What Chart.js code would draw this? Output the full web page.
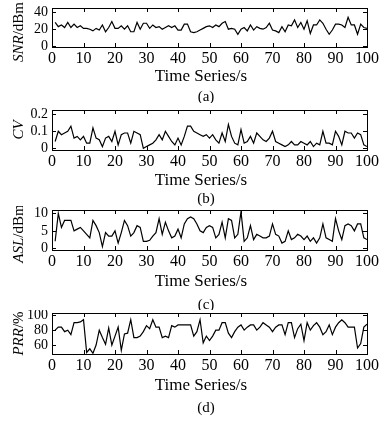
<!DOCTYPE html>
<html><head><meta charset="utf-8">
<script src="https://cdn.jsdelivr.net/npm/chart.js@4.4.0/dist/chart.umd.min.js"></script>
<style>
html,body{margin:0;padding:0;background:#fff;}
#wrap{position:relative;width:389px;height:422px;overflow:hidden;background:#fff;}
.p{position:absolute;left:0;width:389px;}
canvas{display:block;}
</style></head><body>
<div id="wrap">
<div class="p" style="top:0px"><canvas id="ca" width="389" height="103"></canvas></div>
<div class="p" style="top:103px"><canvas id="cb" width="389" height="103"></canvas></div>
<div class="p" style="top:206px"><canvas id="cc" width="389" height="104"></canvas></div>
<div class="p" style="top:310px"><canvas id="cd" width="389" height="112"></canvas></div>
</div>
<script>
// ---- data ----
const timeSeconds = [1,2,3,4,5,6,7,8,9,10,11,12,13,14,15,16,17,18,19,20,21,22,23,24,25,26,27,28,29,30,31,32,33,34,35,36,37,38,39,40,41,42,43,44,45,46,47,48,49,50,51,52,53,54,55,56,57,58,59,60,61,62,63,64,65,66,67,68,69,70,71,72,73,74,75,76,77,78,79,80,81,82,83,84,85,86,87,88,89,90,91,92,93,94,95,96,97,98,99,100];
const xTickValues = [0,10,20,30,40,50,60,70,80,90,100];

const snrValues = [28,23,25,22,28,22,26,22,24,21,21,20,18,21,19,25,17,22,29,21,21,24,20,24,17,17,28,20,27,27,21,25,22,23,20,22,24,22,24,19,19,26,26,17,16,17,19,21,23,24,22,25,23,27,29,20,21,20,14,20,22,18,25,19,23,21,20,22,27,19,18,16,23,17,25,24,31,22,28,20,30,15,25,25,31,27,20,14,19,26,26,25,22,34,25,25,14,26,22,21];
const cvValues = [0.04,0.10,0.08,0.09,0.10,0.13,0.06,0.07,0.05,0.07,0.03,0.03,0.12,0.06,0.05,0.01,0.06,0.07,0.04,0.10,0.02,0.08,0.09,0.09,0.03,0.10,0.09,0.08,0.00,0.01,0.02,0.03,0.05,0.08,0.05,0.10,0.07,0.04,0.02,0.06,0.02,0.07,0.13,0.13,0.10,0.09,0.08,0.07,0.08,0.06,0.08,0.05,0.03,0.09,0.04,0.14,0.07,0.03,0.02,0.11,0.03,0.04,0.07,0.03,0.09,0.07,0.05,0.04,0.06,0.10,0.04,0.03,0.02,0.01,0.02,0.04,0.02,0.02,0.04,0.03,0.02,0.04,0.01,0.03,0.02,0.10,0.03,0.03,0.02,0.10,0.07,0.02,0.10,0.09,0.09,0.06,0.09,0.08,0.02,0.01];
const aslValues = [2,10,6,8,8,8,5,5.5,6,5,4,3,8,6.5,4.5,0.5,4.5,3.5,3.5,5,1.5,4.5,8,6.5,3.5,4.5,6.5,6,2,2,2.3,3.5,4.5,8.5,4,7.5,5,3,3.5,5.5,3,7,8.5,9,8.5,7,5,4.5,6,6.5,6,3,4,7.5,3,8.5,8,3,4,10.5,2,3,6.5,2.5,4,3.5,3,3,3.5,7,4,3.5,1.5,2,5,2.5,3,4,3.5,2.5,3.5,2,3,1.5,3,7,3,2.5,2,8.5,5,2.5,6.5,7,6.5,5,7,7,3,2.5];
const prrValues = [80,84,84,78,80,74,90,90,91,94,50,55,49,60,80,70,61,83,60,72,84,53,75,76,94,70,70,72,78,86,82,94,84,84,70,72,70,86,84,87,87,87,87,87,72,78,94,63,72,66,72,80,80,90,90,76,70,78,84,87,80,84,87,87,80,84,90,87,84,78,84,87,87,74,90,90,70,82,88,66,90,80,86,90,84,74,78,87,74,84,90,94,90,84,84,84,56,62,84,88];

const snrTicks = [0,20,40];
const cvTicks = [0,0.1,0.2];
const aslTicks = [0,5,10];
const prrTicks = [60,80,100];

// ---- drawing ----
const SERIF = '"Liberation Serif","Times New Roman",serif';

const framePlugin = {
  id: 'frame',
  afterDraw(chart, args, o) {
    const {ctx, chartArea: a, scales: {x, y}} = chart;
    ctx.save();
    ctx.strokeStyle = '#000';
    ctx.lineWidth = 1;
    ctx.strokeRect(Math.round(a.left) + 0.5, Math.round(a.top) + 0.5, Math.round(a.right - a.left), Math.round(a.bottom - a.top));
    ctx.beginPath();
    x.ticks.forEach(t => {
      const px = Math.round(x.getPixelForValue(t.value)) + 0.5;
      ctx.moveTo(px, a.bottom); ctx.lineTo(px, a.bottom - 4);
      ctx.moveTo(px, a.top); ctx.lineTo(px, a.top + 4);
    });
    y.ticks.forEach(t => {
      const py = Math.round(y.getPixelForValue(t.value)) + 0.5;
      ctx.moveTo(a.left, py); ctx.lineTo(a.left + 4, py);
      ctx.moveTo(a.right, py); ctx.lineTo(a.right - 4, py);
    });
    ctx.stroke();

    ctx.fillStyle = '#000';
    ctx.textAlign = 'center';
    ctx.textBaseline = 'middle';
    ctx.font = '17px ' + SERIF;
    ctx.fillText('Time Series/s', o.titleX, a.bottom + o.titleGap);
    ctx.font = '15px ' + SERIF;
    ctx.fillText(o.caption, o.capX, a.bottom + o.capGap);

    // y title: italic part + regular part, rotated
    ctx.translate(19, (a.top + a.bottom) / 2 + (o.yShift || 0));
    ctx.rotate(-Math.PI / 2);
    ctx.textBaseline = 'middle';
    ctx.textAlign = 'left';
    const fi = 'italic 15px ' + SERIF, fr = '15px ' + SERIF;
    ctx.font = fi; const w1 = ctx.measureText(o.yItalic).width;
    ctx.font = fr; const w2 = ctx.measureText(o.yRest).width;
    let sx = -(w1 + w2) / 2;
    ctx.font = fi; ctx.fillText(o.yItalic, sx, 0);
    ctx.font = fr; ctx.fillText(o.yRest, sx + w1, 0);
    ctx.restore();
  }
};

function makeChart(id, values, yTicks, yMin, yMax, padTop, xHeight, frameOpts) {
  const pts = timeSeconds.map((t, i) => ({x: t, y: values[i]}));
  return new Chart(document.getElementById(id), {
    type: 'line',
    data: { datasets: [{ data: pts, borderColor: '#000', borderWidth: 1.2, pointRadius: 0, tension: 0, fill: false }] },
    options: {
      responsive: false, animation: false, devicePixelRatio: 1,
      layout: { padding: { top: padTop, right: 22, left: 0, bottom: 0 } },
      plugins: { legend: { display: false }, tooltip: { enabled: false }, title: { display: false }, frame: frameOpts },
      scales: {
        x: {
          type: 'linear', min: 0, max: 100,
          grid: { display: false, drawTicks: false }, border: { display: false },
          afterBuildTicks: s => { s.ticks = xTickValues.map(v => ({value: v})); },
          ticks: { color: '#000', font: { family: SERIF, size: 16 }, padding: 2, maxRotation: 0, autoSkip: false },
          afterFit: s => { s.height = xHeight; s.paddingLeft = 0; s.paddingRight = 0; }
        },
        y: {
          type: 'linear', min: yMin, max: yMax,
          grid: { display: false, drawTicks: false }, border: { display: false },
          afterBuildTicks: s => { s.ticks = yTicks.map(v => ({value: v})); },
          ticks: { color: '#000', font: { family: SERIF, size: 14 }, padding: 4, autoSkip: false,
                   callback: v => String(v) },
          afterFit: s => { s.width = 52; s.paddingTop = 0; s.paddingBottom = 0; }
        }
      }
    },
    plugins: [framePlugin]
  });
}

makeChart('ca', snrValues, snrTicks, -1, 45, 8, 56, {caption: '(a)', titleX: 201, capX: 206, titleGap: 30, capGap: 50, yItalic: 'SNR', yRest: '/dBm', yShift: 4.5});
makeChart('cb', cvValues, cvTicks, -0.01, 0.225, 7, 56, {caption: '(b)', titleX: 201, capX: 206, titleGap: 31, capGap: 49, yItalic: 'CV', yRest: '', yShift: 0});
makeChart('cc', aslValues, aslTicks, -0.5, 11, 4, 60, {caption: '(c)', titleX: 201, capX: 206, titleGap: 32, capGap: 55, yItalic: 'ASL', yRest: '/dBm', yShift: 3.5});
makeChart('cd', prrValues, prrTicks, 48, 103, 3, 68, {caption: '(d)', titleX: 201, capX: 206, titleGap: 32, capGap: 54, yItalic: 'PRR', yRest: '/%', yShift: 0});
</script>
</body></html>
